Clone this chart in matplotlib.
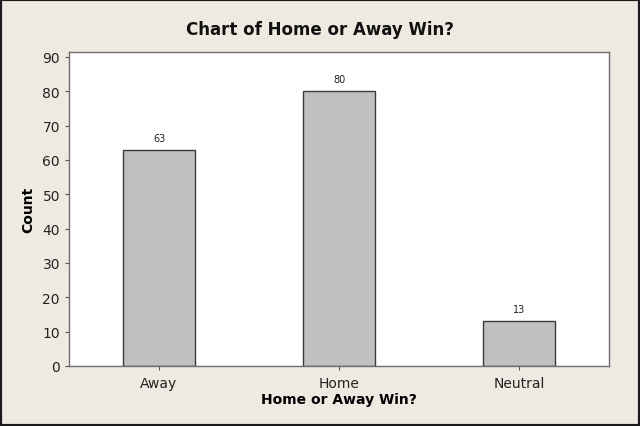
import matplotlib
matplotlib.use("Agg")
import matplotlib.pyplot as plt
from matplotlib.patches import Rectangle

categories = ["Away", "Home", "Neutral"]
counts = [63, 80, 13]
y_ticks = [0, 10, 20, 30, 40, 50, 60, 70, 80, 90]

bg = "#EEEAE1"
plt.rcParams["font.family"] = ["DejaVu Sans"]

fig = plt.figure(figsize=(6.4, 4.27), dpi=100, facecolor=bg)
ax = fig.add_axes([69 / 640, 1 - 367 / 427, 540 / 640, (367 - 52.7) / 427])
ax.set_facecolor("white")

x = list(range(len(categories)))
bars = ax.bar(x, counts, width=0.4, color="#C0C0C0", edgecolor="#3A3A3A", linewidth=1)
for xi, c in zip(x, counts):
    ax.annotate(str(c), (xi, c), xytext=(0, 5), textcoords="offset points",
                ha="center", va="bottom", fontsize=7, color="#222222")

ax.set_xlim(-0.5, 2.5)
ax.set_ylim(0, 91.5)
ax.set_xticks(x)
ax.set_xticklabels(categories, fontsize=10, color="#222222")
ax.set_yticks(y_ticks)
ax.tick_params(axis="y", labelsize=10, labelcolor="#222222", length=3, color="#555555", direction="out")
ax.tick_params(axis="x", length=3, color="#555555", direction="out", pad=4)
for s in ax.spines.values():
    s.set_color("#6E6E6E")
    s.set_linewidth(1)

ax.set_xlabel("Home or Away Win?", fontsize=10, fontweight="bold", labelpad=2)
ax.set_ylabel("Count", fontsize=10, fontweight="bold", labelpad=5)
fig.text(0.5, 1 - 30 / 427, "Chart of Home or Away Win?", ha="center", va="center",
         fontsize=12, fontweight="bold", color="#111111")

fig.patches.append(Rectangle((0, 0), 1, 1, transform=fig.transFigure, fill=False,
                             edgecolor="#1A1A1A", linewidth=3))

fig.savefig("out.png", dpi=100, facecolor=bg)
